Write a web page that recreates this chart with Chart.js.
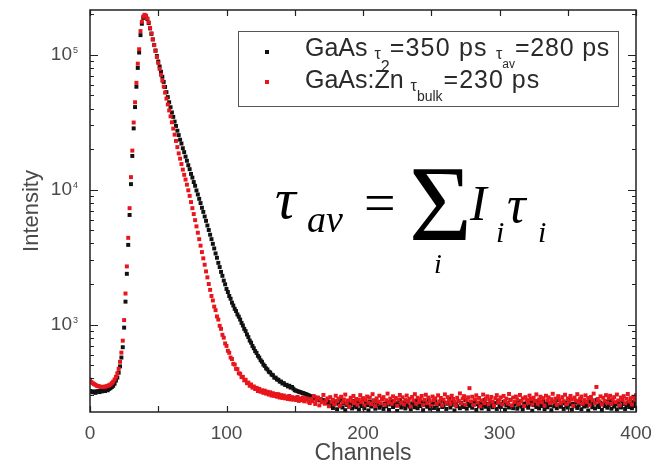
<!DOCTYPE html>
<html><head><meta charset="utf-8">
<script src="https://cdn.jsdelivr.net/npm/chart.js@4/dist/chart.umd.min.js"></script>
<style>html,body{margin:0;padding:0;background:#fff}#wrap{width:653px;height:463px;position:relative}canvas{display:block}</style>
</head><body><div id="wrap"><canvas id="c" width="653" height="463"></canvas></div>
<script>
// ---- data ----
const channels = Array.from({length: 401}, (_, i) => i);

const gaasCounts = [
322,318,315,320,312,318,322,316,325,320,328,322,330,326,334,338,345,352,365,385,405,
440,490,570,680,950,1480,2380,3900,6500,11000,17800,28500,41000,58000,80000,104000,140000,170000,188000,
195000,193000,184000,172000,157000,143000,130000,118500,107800,98000,
89300,82000,75000,68800,63000,57800,52900,48600,44500,40900,
37400,34700,32000,29700,27400,25400,23500,22000,20300,19000,
17600,16400,15200,14200,13100,12300,11400,10700,9880,9220,
8560,7960,7350,6850,6330,5880,5430,5030,4640,4300,
3970,3670,3370,3130,2870,2670,2460,2300,2120,1990,
1840,1745,1630,1555,1455,1385,1310,1260,1190,1145,
1090,1030,985,930,895,845,808,762,735,695,
668,636,617,587,570,544,530,506,494,474,
465,447,442,426,422,405,404,392,390,378,
378,366,368,357,358,348,352,341,345,335,
326,324,321,318,316,313,311,308,306,302,300,
296,290,294,284,288,279,283,274,280,270,276,266,272,262,268,
250,263,241,257,270,236,259,248,275,243,261,232,254,268,246,258,239,272,251,244,
266,235,256,249,278,240,262,253,231,269,247,258,274,238,255,264,242,251,280,237,
259,248,267,233,256,271,245,252,262,229,257,276,243,250,265,239,254,270,247,236,
261,253,244,273,240,258,249,266,232,255,263,246,279,238,252,260,241,268,250,234,
257,272,245,251,264,237,259,282,243,254,267,231,256,248,270,240,262,253,245,275,
238,258,250,266,242,255,271,233,257,248,264,239,253,276,246,259,236,251,268,244,
256,262,237,273,249,245,258,267,234,252,261,243,277,250,240,256,265,238,254,270,
247,235,260,251,274,242,257,266,230,253,262,245,271,239,255,249,268,236,258,244,
263,252,232,269,248,257,240,275,254,246,261,237,265,251,243,278,256,234,259,248,
266,241,253,272,236,258,247,263,250,231,270,255,244,260,239,276,252,245,264,233,
257,249,268,242,254,273,238,261,247,256,235,266,251,243,270,258,237,253,262,245,
255,240,267,249,258
];

const gaasZnCounts = [
390,375,368,362,358,352,350,348,345,346,344,347,349,352,355,360,368,378,392,410,435,
470,530,620,760,1080,1700,2700,4400,7300,12400,19500,31500,44500,62000,86000,110000,150000,176000,192000,
198000,195000,186000,174000,158500,144500,130600,118000,106700,96400,
87100,78700,71100,64300,58100,52500,47400,42900,38700,35000,
31600,28400,25600,23000,20700,18600,17000,15500,14100,12900,
11900,10900,9900,9000,8100,7300,6600,5950,5350,4800,
4300,3850,3450,3100,2780,2480,2240,2000,1810,1630,
1510,1360,1280,1150,1090,980,930,840,800,725,
695,640,618,570,556,512,505,470,468,436,
432,408,410,386,390,368,372,352,360,341,
348,333,340,322,334,318,326,312,324,308,
318,303,315,298,310,296,306,292,305,288,
300,286,298,284,293,281,296,279,290,278,
287,276,291,272,284,275,288,270,279,283,268,
262,281,270,295,258,276,288,252,279,266,301,259,274,284,248,290,268,277,256,297,
271,283,250,292,265,279,303,260,274,246,287,270,296,262,281,255,278,300,267,285,
252,276,293,264,288,258,305,272,249,284,268,297,261,280,290,254,275,308,266,283,
259,294,271,286,250,279,301,263,289,256,276,298,268,282,247,291,273,305,260,287,
266,280,296,253,277,302,262,288,271,249,293,275,284,258,299,269,286,252,278,304,
263,290,274,257,297,281,268,251,287,272,309,261,283,295,255,276,289,338,270,292,
253,279,299,265,286,248,274,303,262,281,294,257,277,291,268,250,285,300,264,278,
289,256,296,271,283,260,306,275,252,288,267,293,279,258,301,270,284,249,290,276,
263,298,281,255,287,272,304,259,278,292,266,285,251,297,274,289,262,280,307,268,
283,254,295,277,261,290,271,302,257,284,269,296,279,250,288,273,305,264,282,293,
259,276,299,267,286,253,291,275,308,262,345,281,270,294,256,287,272,300,263,284,
297,258,279,290,266,303,274,252,288,277,295,261,282,306,269,285,256,292,278,300
];

const xTickValues = [0, 100, 200, 300, 400];
const xMinorTickValues = [0, 50, 100, 150, 200, 250, 300, 350, 400];
const yTickValues = [1000, 10000, 100000];
const yTickExponents = ['3', '4', '5'];
const xTitle = 'Channels';
const yTitle = 'Intensity';

const BLACK = '#111111';
const RED = '#e8161c';
const SANS = '"Liberation Sans", Arial, sans-serif';
const SERIF = '"Liberation Serif", "Times New Roman", serif';

function toPoints(arr) {
  const n = Math.min(arr.length, channels.length);
  const out = [];
  for (let i = 0; i < n; i++) out.push({x: channels[i], y: arr[i]});
  return out;
}

// draw runs of text sequentially
function drawRuns(ctx, x, y, runs) {
  let cx = x;
  for (const r of runs) {
    ctx.font = r.font;
    ctx.letterSpacing = r.ls || '0px';
    ctx.fillText(r.t, cx, y + (r.dy || 0));
    cx += ctx.measureText(r.t).width + (r.gap || 0);
  }
  ctx.letterSpacing = '0px';
}

const decor = {
  id: 'decor',
  afterDatasetsDraw(chart) {
    const {ctx, chartArea: ca, scales: {x, y}} = chart;
    ctx.save();
    // frame
    ctx.strokeStyle = '#222';
    ctx.lineWidth = 1.5;
    ctx.strokeRect(ca.left, ca.top, ca.right - ca.left, ca.bottom - ca.top);
    // x ticks (inside, top and bottom)
    ctx.lineWidth = 1.2;
    ctx.beginPath();
    for (const v of xMinorTickValues) {
      const px = Math.round(x.getPixelForValue(v)) + 0.5;
      ctx.moveTo(px, ca.bottom); ctx.lineTo(px, ca.bottom - 6);
      ctx.moveTo(px, ca.top); ctx.lineTo(px, ca.top + 6);
    }
    // y ticks (log, inside, left and right)
    for (let d = 100; d <= 1e6; d *= 10) {
      for (let m = 1; m <= 9; m++) {
        const v = m * d;
        if (v < y.min || v > y.max) continue;
        const py = Math.round(y.getPixelForValue(v)) + 0.5;
        const len = m === 1 ? 8 : 4;
        ctx.moveTo(ca.left, py); ctx.lineTo(ca.left + len, py);
        ctx.moveTo(ca.right, py); ctx.lineTo(ca.right - len, py);
      }
    }
    ctx.stroke();

    // exponents of y tick labels
    ctx.fillStyle = '#4a4a4a';
    ctx.font = '9px ' + SANS;
    ctx.textBaseline = 'alphabetic';
    ctx.textAlign = 'left';
    yTickValues.forEach((v, i) => {
      const py = y.getPixelForValue(v);
      ctx.fillText(yTickExponents[i], ca.left - 17, py - 2);
    });

    // legend
    const lx = 238, ly = 31, lw = 380, lh = 75;
    ctx.fillStyle = '#fff';
    ctx.fillRect(lx, ly, lw, lh);
    ctx.strokeStyle = '#555';
    ctx.lineWidth = 1;
    ctx.strokeRect(lx + 0.5, ly + 0.5, lw, lh);
    ctx.fillStyle = BLACK;
    ctx.fillRect(265, 50, 4, 4);
    ctx.fillStyle = RED;
    ctx.fillRect(265, 80, 4, 4);
    ctx.fillStyle = '#2a2a2a';
    ctx.textAlign = 'left';
    ctx.textBaseline = 'alphabetic';
    const big = '25px ' + SANS, small = '16px ' + SANS, tiny = '12px ' + SANS;
    drawRuns(ctx, 305, 56, [
      {t: 'GaAs ', font: big},
      {t: 'τ', font: small, dy: 3},
      {t: '2', font: small, dy: 16},
      {t: '=350 ps ', font: big, ls: '1.2px'},
      {t: 'τ', font: small, dy: 3},
      {t: 'av', font: tiny, dy: 12},
      {t: '=280 ps', font: big, ls: '0.8px'}
    ]);
    drawRuns(ctx, 305, 88, [
      {t: 'GaAs:Zn ', font: big},
      {t: 'τ', font: small, dy: 3},
      {t: 'bulk', font: '14px ' + SANS, dy: 13, gap: 1},
      {t: '=230 ps', font: big, ls: '1px'}
    ]);

    // formula
    ctx.fillStyle = '#000';
    ctx.font = 'italic 58px ' + SERIF;
    ctx.fillText('τ', 275, 218);
    ctx.font = 'italic 38px ' + SERIF;
    ctx.fillText('av', 307, 232);
    ctx.font = '56px ' + SERIF;
    ctx.fillText('=', 364, 222);
    ctx.font = '108px ' + SERIF;
    ctx.fillText('Σ', 409, 240);
    ctx.font = 'italic 50px ' + SERIF;
    ctx.fillText('I', 470, 220);
    ctx.font = 'italic 30px ' + SERIF;
    ctx.fillText('i', 496, 242);
    ctx.font = 'italic 52px ' + SERIF;
    ctx.fillText('τ', 507, 222);
    ctx.font = 'italic 30px ' + SERIF;
    ctx.fillText('i', 538, 242);
    ctx.font = 'italic 28px ' + SERIF;
    ctx.fillText('i', 434, 273);
    ctx.restore();
  }
};

new Chart(document.getElementById('c'), {
  type: 'scatter',
  data: {
    datasets: [
      {label: 'GaAs τ2=350 ps τav=280 ps', data: toPoints(gaasCounts),
       pointStyle: 'rect', pointRadius: 2.8, borderWidth: 0,
       backgroundColor: BLACK, borderColor: BLACK, order: 2},
      {label: 'GaAs:Zn τbulk=230 ps', data: toPoints(gaasZnCounts),
       pointStyle: 'rect', pointRadius: 2.8, borderWidth: 0,
       backgroundColor: RED, borderColor: RED, order: 1}
    ]
  },
  options: {
    responsive: false,
    animation: false,
    devicePixelRatio: 1,
    layout: {padding: {left: 0, right: 17, top: 10, bottom: 0}},
    plugins: {legend: {display: false}, tooltip: {enabled: false}},
    scales: {
      x: {
        type: 'linear', min: 0, max: 400, position: 'bottom',
        grid: {display: false, drawTicks: false, tickLength: 0}, border: {display: false},
        afterBuildTicks: s => { s.ticks = xTickValues.map(v => ({value: v})); },
        ticks: {autoSkip: false, maxRotation: 0, padding: 10, color: '#4a4a4a',
                font: {family: SANS, size: 19}},
        title: {display: true, text: xTitle, color: '#4a4a4a',
                font: {family: SANS, size: 23}, padding: {top: 0, bottom: -4}},
        afterFit: s => { s.height = 51; s.paddingLeft = 0; s.paddingRight = 0; }
      },
      y: {
        type: 'logarithmic', min: 225, max: 215000,
        grid: {display: false, drawTicks: false, tickLength: 0}, border: {display: false},
        afterBuildTicks: s => { s.ticks = yTickValues.map(v => ({value: v})); },
        ticks: {autoSkip: false, padding: 18, color: '#4a4a4a',
                font: {family: SANS, size: 19}, callback: () => '10'},
        title: {display: true, text: yTitle, color: '#4a4a4a',
                font: {family: SANS, size: 22}, padding: {top: 19, bottom: 0}},
        afterFit: s => { s.width = 90; s.paddingTop = 0; s.paddingBottom = 0; }
      }
    }
  },
  plugins: [decor]
});
</script>
</body></html>
